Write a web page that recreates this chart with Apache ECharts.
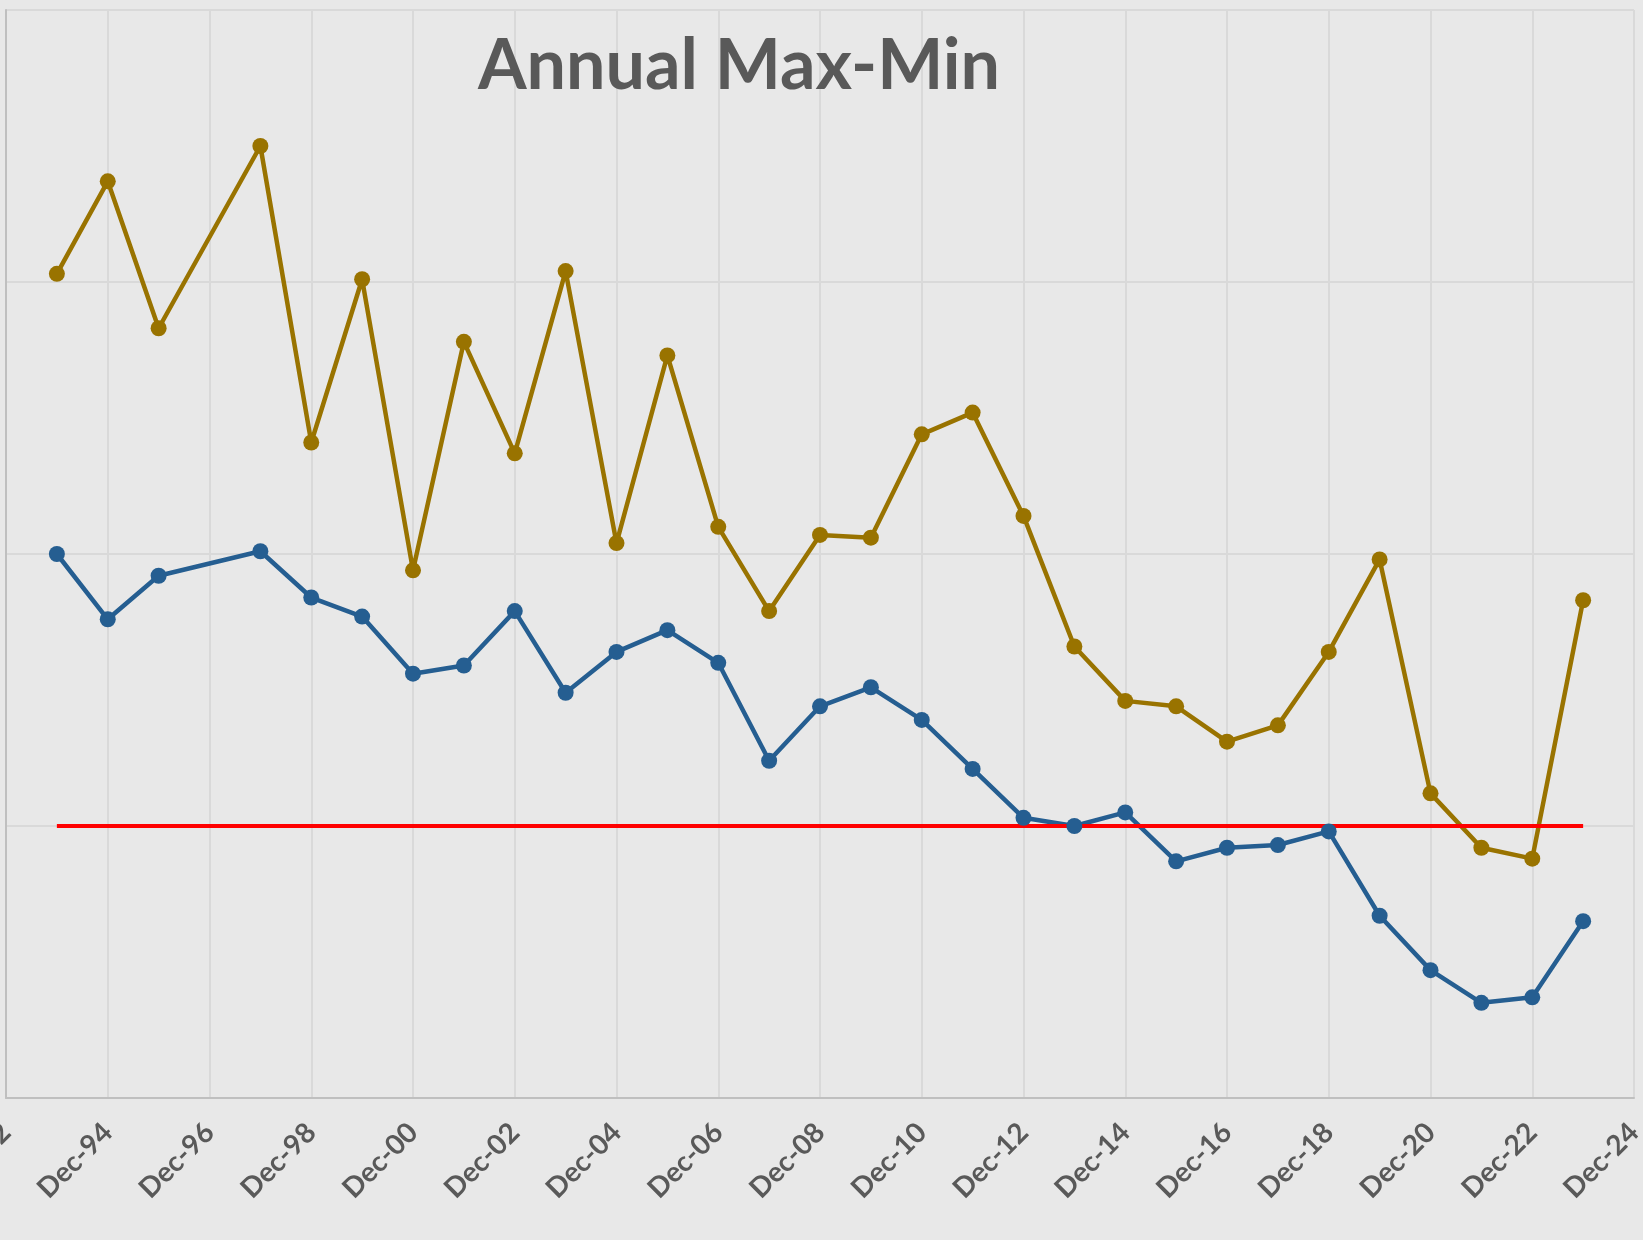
<!DOCTYPE html>
<html>
<head>
<meta charset="utf-8">
<script src="https://cdn.jsdelivr.net/npm/echarts@6/dist/echarts.min.js"></script>
<style>
html,body{margin:0;padding:0;background:#e8e8e8;}
#chart{width:1643px;height:1240px;}
</style>
</head>
<body>
<div id="chart"></div>
<script>
// Years (December of each year); Dec-96 has no data point
const years = [1993,1994,1995,1997,1998,1999,2000,2001,2002,2003,2004,2005,2006,2007,2008,2009,2010,2011,2012,2013,2014,2015,2016,2017,2018,2019,2020,2021,2022,2023];
const maxValues = [3.03,3.37,2.83,3.50,2.41,3.01,1.94,2.78,2.37,3.04,2.04,2.73,2.10,1.79,2.07,2.06,2.44,2.52,2.14,1.66,1.46,1.44,1.31,1.37,1.64,1.98,1.12,0.92,0.88,1.83];
const minValues = [2.00,1.76,1.92,2.01,1.84,1.77,1.56,1.59,1.79,1.49,1.64,1.72,1.60,1.24,1.44,1.51,1.39,1.21,1.03,1.00,1.05,0.87,0.92,0.93,0.98,0.67,0.47,0.35,0.37,0.65];
const referenceLevel = [[1993,1.0],[2023,1.0]];
const titleText = 'Annual Max-Min';

const pair = (xs, ys) => xs.map((x, i) => [x, ys[i]]);

const chart = echarts.init(document.getElementById('chart'), null, {renderer:'canvas'});
chart.setOption({
  backgroundColor: '#e8e8e8',
  animation: false,
  graphic: [{
    type: 'text',
    x: 739, y: 66,
    z: 10,
    style: {
      text: titleText,
      fill: '#595959',
      font: 'bold 70px Lato',
      textAlign: 'center',
      textVerticalAlign: 'middle'
    }
  }],
  grid: {left: 6, right: 9, top: 10, bottom: 142, containLabel: false, outerBoundsMode: 'none'},
  xAxis: {
    type: 'value',
    min: 1992, max: 2024, interval: 2,
    axisLine: {show: true, lineStyle: {color: '#bfbfbf', width: 2}},
    axisTick: {show: false},
    splitLine: {show: true, lineStyle: {color: '#d9d9d9', width: 2}},
    axisLabel: {
      rotate: 45,
      margin: 30,
      color: '#595959',
      fontFamily: 'Lato',
      fontWeight: 'bold',
      fontSize: 28,
      showMinLabel: true, showMaxLabel: true,
      hideOverlap: false,
      formatter: v => 'Dec-' + String(Math.round(v) % 100).padStart(2, '0')
    }
  },
  yAxis: {
    type: 'value',
    min: 0, max: 4, interval: 1,
    axisLine: {show: true, lineStyle: {color: '#bfbfbf', width: 2}},
    axisTick: {show: false},
    axisLabel: {show: false},
    splitLine: {show: true, lineStyle: {color: '#d9d9d9', width: 2}}
  },
  series: [
    {
      type: 'line', name: 'Max',
      data: pair(years, maxValues),
      symbol: 'circle', symbolSize: 16,
      lineStyle: {color: '#997300', width: 4.5},
      itemStyle: {color: '#997300'}
    },
    {
      type: 'line', name: 'Min',
      data: pair(years, minValues),
      symbol: 'circle', symbolSize: 16,
      lineStyle: {color: '#255e91', width: 4.5},
      itemStyle: {color: '#255e91'}
    },
    {
      type: 'line', name: 'Level',
      data: referenceLevel,
      symbol: 'none',
      lineStyle: {color: '#ff0000', width: 4}
    }
  ]
});
</script>
</body>
</html>
